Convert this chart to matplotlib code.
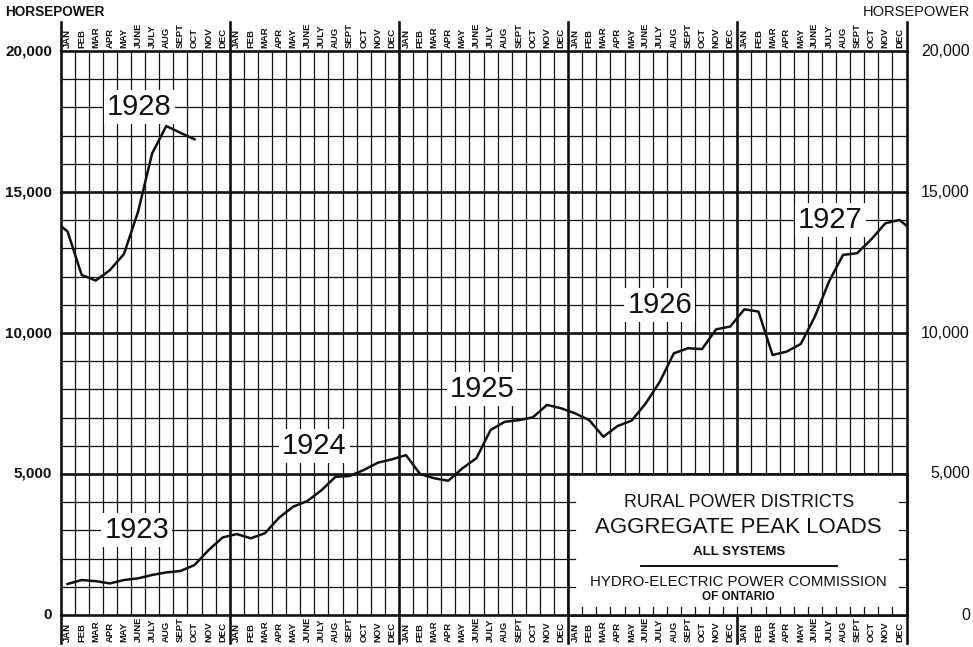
import numpy as np
import matplotlib.pyplot as plt
from matplotlib.patches import Rectangle

# Aggregate peak loads (horsepower), one value per month
months = ["JAN", "FEB", "MAR", "APR", "MAY", "JUNE",
          "JULY", "AUG", "SEPT", "OCT", "NOV", "DEC"]
loads_1923 = [1100, 1240, 1200, 1120, 1240, 1300, 1420, 1510, 1560, 1770, 2300, 2750]
loads_1924 = [2870, 2720, 2900, 3450, 3840, 4040, 4420, 4900, 4930, 5140, 5400, 5520]
loads_1925 = [5670, 5000, 4850, 4760, 5200, 5560, 6560, 6850, 6910, 7010, 7450, 7330]
loads_1926 = [7150, 6910, 6320, 6700, 6890, 7500, 8270, 9280, 9460, 9430, 10130, 10230]
loads_1927 = [10840, 10760, 9220, 9340, 9610, 10580, 11820, 12770, 12830, 13320, 13890, 14010]
loads_1928 = [13600, 12060, 11860, 12230, 12800, 14300, 16370, 17340, 17100, 16870]

year_labels = ["1923", "1924", "1925", "1926", "1927", "1928"]
label_pos = [(5.4, 3000), (18.0, 6000), (29.9, 8000), (42.5, 11000), (54.6, 14000), (5.6, 18000)]

y_ticks = [0, 5000, 10000, 15000, 20000]
y_tick_text = ["0", "5,000", "10,000", "15,000", "20,000"]

box_lines = ["RURAL POWER DISTRICTS", "AGGREGATE PEAK LOADS", "ALL SYSTEMS",
             "HYDRO-ELECTRIC POWER COMMISSION", "OF ONTARIO"]

plt.rcParams['font.family'] = ['Liberation Sans', 'DejaVu Sans']

fig = plt.figure(figsize=(9.73, 6.47), dpi=100)
ax = fig.add_axes([60.5 / 973, 32 / 647, 846 / 973, 564 / 647])
ax.set_xlim(0, 60)
ax.set_ylim(0, 20000)
ax.axis('off')

ink = '#111111'
thin, heavy = 0.9, 1.9

# monthly grid, heavier at year boundaries and every 5,000 hp
for i in range(61):
    ax.axvline(i, color=ink, lw=heavy if i % 12 == 0 else thin, zorder=1, clip_on=False)
for v in range(0, 20001, 1000):
    ax.axhline(v, color=ink, lw=heavy if v % 5000 == 0 else thin, zorder=1, clip_on=False)

# year boundaries run through the month labels
xt = ax.get_xaxis_transform()
for i in range(0, 61, 12):
    ax.plot([i, i], [1, 1 + 29 / 564], color=ink, lw=heavy, transform=xt, clip_on=False)
    ax.plot([i, i], [0, -28 / 564], color=ink, lw=heavy, transform=xt, clip_on=False)

# title panel in the lower right
ax.add_patch(Rectangle((36, 0), 24, 5000, facecolor='white', edgecolor='none', zorder=2))
ax.plot([36, 36], [0, 5000], color=ink, lw=heavy, zorder=3, clip_on=False)
ax.plot([36, 60], [5000, 5000], color=ink, lw=heavy, zorder=3, clip_on=False)
ax.plot([60, 60], [0, 5000], color=ink, lw=heavy, zorder=3, clip_on=False)
ax.plot([36, 60], [0, 0], color=ink, lw=heavy, zorder=3, clip_on=False)
for i in range(37, 60):
    ax.plot([i, i], [0, 300], color=ink, lw=thin, zorder=3)
for v in range(1000, 5000, 1000):
    ax.plot([36, 36.5], [v, v], color=ink, lw=thin, zorder=3)
    ax.plot([59.5, 60], [v, v], color=ink, lw=thin, zorder=3)

ax.text(48.1, 4000, box_lines[0], ha='center', va='center', fontsize=12.8, color=ink, zorder=4)
ax.text(48.1, 3090, box_lines[1], ha='center', va='center', fontsize=16, color=ink, zorder=4)
ax.text(48.1, 2240, box_lines[2], ha='center', va='center', fontsize=9.5, fontweight='bold', color=ink, zorder=4)
ax.plot([41.2, 55.1], [1740, 1740], color=ink, lw=1.4, zorder=4)
ax.text(48.1, 1180, box_lines[3], ha='center', va='center', fontsize=10.8, color=ink, zorder=4)
ax.text(48.1, 640, box_lines[4], ha='center', va='center', fontsize=8.5, fontweight='bold', color=ink, zorder=4)

# 1923 to 1927 as one continuous line, running on into Jan 1928
main = loads_1923 + loads_1924 + loads_1925 + loads_1926 + loads_1927 + loads_1928[:1]
ax.plot(np.arange(len(main)) + 0.5, main, color=ink, lw=1.8,
        solid_joinstyle='round', zorder=3)
# 1928 drawn again from the left edge, picking up from Dec 1927
ext = loads_1927[-1:] + loads_1928
ax.plot(np.arange(-1, len(loads_1928)) + 0.5, ext, color=ink, lw=1.8,
        solid_joinstyle='round', zorder=3)

for lab, (x, y) in zip(year_labels, label_pos):
    ax.text(x, y, lab, ha='center', va='center', fontsize=21, color=ink, zorder=5,
            bbox=dict(facecolor='white', edgecolor='none', pad=2))

# month names above and below the grid
for b in range(5):
    for m, name in enumerate(months):
        x = b * 12 + m + 0.5
        ax.text(x, 1 + 3 / 564, name, rotation=90, ha='center', va='bottom', transform=xt,
                fontsize=6.8, fontweight='bold', color=ink)
        ax.text(x, -27 / 564, name, rotation=90, ha='center', va='bottom', transform=xt,
                fontsize=6.8, fontweight='bold', color=ink)

yt = ax.get_yaxis_transform()
for v, s in zip(y_ticks, y_tick_text):
    ax.text(-8.5 / 846, v, s, ha='right', va='center', transform=yt,
            fontsize=11, fontweight='bold', color=ink)
    ax.text(1 + 63.5 / 846, v, s, ha='right', va='center', transform=yt,
            fontsize=11.5, color=ink)

fig.text(5 / 973, 1 - 12 / 647, "HORSEPOWER", ha='left', va='center', fontsize=9.8, fontweight='bold', color=ink)
fig.text(970 / 973, 1 - 12 / 647, "HORSEPOWER", ha='right', va='center', fontsize=10.5, color=ink)

fig.savefig("out.png", dpi=100, facecolor='white')
